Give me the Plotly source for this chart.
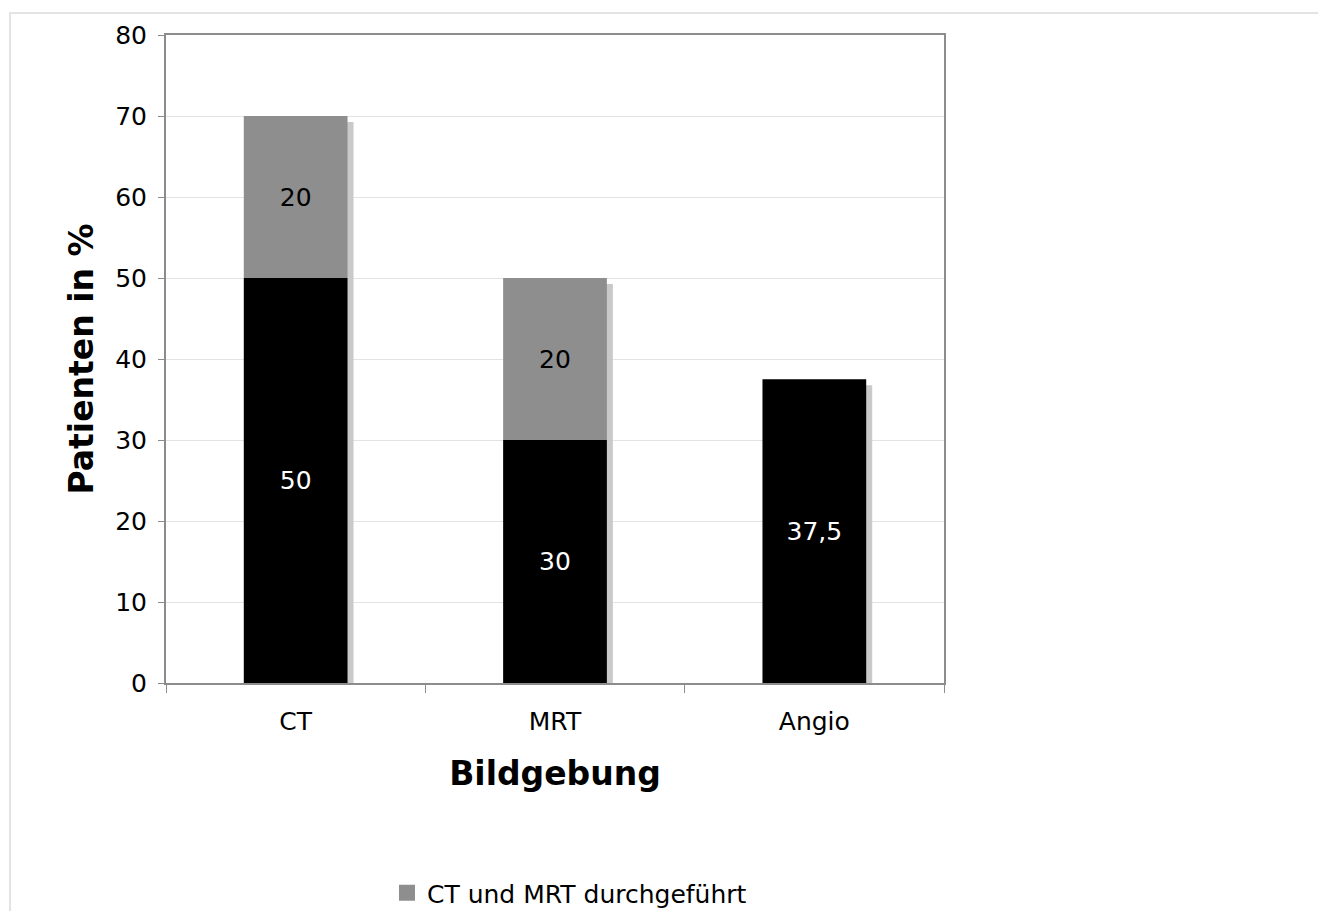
import plotly.graph_objects as go

categories = ["CT", "MRT", "Angio"]
only_values = [50, 30, 37.5]        # black series
both_values = [20, 20, 0]           # "CT und MRT durchgeführt"
y_ticks = [0, 10, 20, 30, 40, 50, 60, 70, 80]

FONT = "DejaVu Sans"
OFF = 8                      # default body margin of the html page
W, H = 1326 - 2 * OFF, 919 - 2 * OFF
# target plot area in viewport pixels: x 166..944, y 35..683
L, T = 166 - OFF, 35 - OFF
plot_w, plot_h = 944 - 166, 683 - 35
R = W - L - plot_w
B = H - T - plot_h
ymax = 80
bar_w = 0.40
shadow_dx = 6 / (plot_w / 3)     # in category units
shadow_dy = 6 * ymax / plot_h    # in value units


def fmt(v):
    if v == 0:
        return ""
    return ("%g" % v).replace(".", ",")


def px_x(xv):  # viewport x pixel -> paper x
    return (xv - 166) / plot_w


def px_y(yv):  # viewport y pixel -> paper y
    return (683 - yv) / plot_h


totals = [a + b for a, b in zip(only_values, both_values)]

fig = go.Figure()
# drop shadow
fig.add_trace(go.Bar(
    x=categories, y=totals, base=[-shadow_dy] * 3,
    width=bar_w, offset=-bar_w / 2 + shadow_dx,
    marker=dict(color="#c9c9c9", line=dict(width=0)),
    showlegend=False, hoverinfo="skip",
))
fig.add_trace(go.Bar(
    x=categories, y=only_values, base=[0] * 3, name="nur",
    width=bar_w, offset=-bar_w / 2,
    marker=dict(color="#000000", line=dict(width=0)),
    text=[fmt(v) for v in only_values], textposition="inside",
    insidetextanchor="middle", textangle=0,
    textfont=dict(family=FONT, size=25, color="white"),
    showlegend=False,
))
fig.add_trace(go.Bar(
    x=categories, y=both_values, base=only_values, name="CT und MRT durchgeführt",
    width=bar_w, offset=-bar_w / 2,
    marker=dict(color="#8e8e8e", line=dict(width=0)),
    text=[fmt(v) for v in both_values], textposition="inside",
    insidetextanchor="middle", textangle=0,
    textfont=dict(family=FONT, size=25, color="black"),
    showlegend=False,
))
# legend entry with a larger square symbol
fig.add_trace(go.Scatter(
    x=[None], y=[None], mode="markers", name="CT und MRT durchgeführt",
    marker=dict(symbol="square", size=18, color="#8e8e8e"),
    showlegend=True,
))

fig.update_layout(
    width=W, height=H,
    margin=dict(l=L, r=R, t=T, b=B, autoexpand=False),
    barmode="overlay",
    paper_bgcolor="white", plot_bgcolor="white",
    font=dict(family=FONT, size=25, color="black"),
    showlegend=True,
    legend=dict(
        orientation="h", x=px_x(387), xanchor="left",
        y=px_y(893), yanchor="middle",
        font=dict(family=FONT, size=25, color="black"),
        itemwidth=30, bgcolor="rgba(0,0,0,0)", itemsizing="trace",
    ),
    xaxis=dict(
        range=[-0.5, 2.5], showgrid=False,
        showline=True, linecolor="#8c8c8c", linewidth=2, mirror=True,
        ticks="outside", tickson="boundaries", ticklen=8, tickcolor="#8c8c8c",
        ticklabelstandoff=15,
        tickfont=dict(family=FONT, size=25, color="black"),
        title=dict(text="<b>Bildgebung</b>", font=dict(family=FONT, size=33, color="black"), standoff=27),
    ),
    yaxis=dict(
        range=[0, ymax], tickvals=y_ticks,
        showgrid=True, gridcolor="#e3e3e3", gridwidth=1,
        showline=True, linecolor="#8c8c8c", linewidth=2, mirror=True,
        ticks="outside", ticklen=6, tickcolor="#8c8c8c",
        ticklabelstandoff=6,
        tickfont=dict(family=FONT, size=25, color="black"),
        zeroline=False,
        title=dict(text="<b>Patienten in %</b>", font=dict(family=FONT, size=33, color="black"), standoff=12),
    ),
    shapes=[dict(
        type="rect", xref="paper", yref="paper",
        x0=px_x(10), x1=px_x(1326 + 20),
        y0=px_y(919 + 20), y1=px_y(13),
        line=dict(color="#e3e3e3", width=2), layer="below",
    )],
)

fig.write_html("out.html")
